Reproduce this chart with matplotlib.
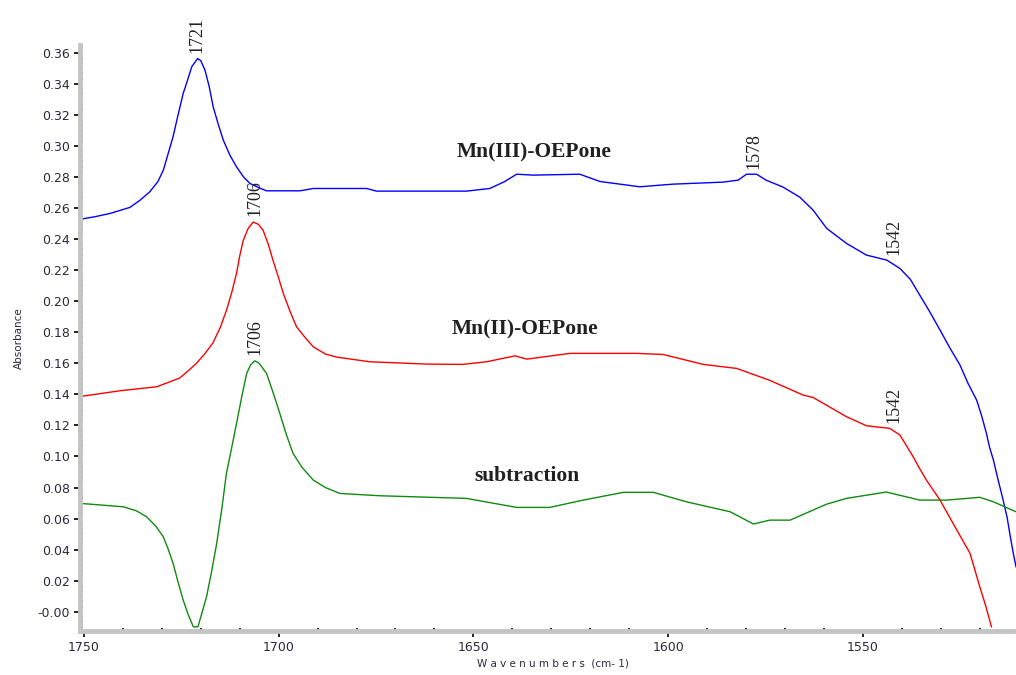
import matplotlib
matplotlib.use("Agg")
import matplotlib.pyplot as plt
from matplotlib.ticker import MultipleLocator, AutoMinorLocator, FixedLocator, FixedFormatter

# Mn(III)-OEPone spectrum
wn_mn3 = [1751.0, 1747.0, 1743.3, 1738.2, 1735.6, 1733.1, 1731.0, 1729.6, 1727.1, 1726.0,
          1724.5, 1723.3, 1722.3, 1720.8, 1720.0, 1718.9, 1717.8, 1716.8, 1715.5, 1714.2,
          1712.5, 1710.8, 1709.0, 1707.4, 1705.0, 1703.1, 1694.5, 1691.1, 1677.4, 1674.9,
          1651.8, 1645.8, 1642.0, 1638.9, 1634.6, 1622.7, 1617.5, 1607.3, 1598.7, 1585.9,
          1582.0, 1579.9, 1577.3, 1574.8, 1570.5, 1566.2, 1562.8, 1559.3, 1554.2, 1549.1,
          1543.9, 1540.5, 1537.8, 1535.4, 1532.8, 1530.2, 1527.7, 1525.1, 1523.0, 1520.8,
          1519.5, 1518.3, 1517.5, 1516.5, 1515.3, 1514.0, 1513.0, 1512.3, 1511.5, 1510.7]
abs_mn3 = [0.2527, 0.2545, 0.2565, 0.2604, 0.2650, 0.2704, 0.2770, 0.2844, 0.3059, 0.3180,
           0.3338, 0.3430, 0.3510, 0.3563, 0.3550, 0.3488, 0.3380, 0.3252, 0.3140, 0.3037,
           0.2940, 0.2865, 0.2800, 0.2759, 0.2730, 0.2711, 0.2711, 0.2726, 0.2726, 0.2709,
           0.2709, 0.2726, 0.2770, 0.2818, 0.2812, 0.2818, 0.2771, 0.2737, 0.2754, 0.2767,
           0.2780, 0.2818, 0.2818, 0.2779, 0.2735, 0.2670, 0.2587, 0.2469, 0.2372, 0.2297,
           0.2265, 0.2211, 0.2140, 0.2039, 0.1930, 0.1814, 0.1700, 0.1590, 0.1470, 0.1363,
           0.1260, 0.1149, 0.1060, 0.0977, 0.0850, 0.0719, 0.0610, 0.0505, 0.0390, 0.0290]

# Mn(II)-OEPone spectrum
wn_mn2 = [1751.0, 1740.8, 1731.3, 1725.4, 1723.5, 1721.1, 1719.0, 1716.9, 1715.0, 1713.4,
          1712.0, 1710.8, 1710.0, 1709.1, 1707.8, 1706.5, 1705.2, 1704.0, 1702.7, 1701.4,
          1700.0, 1698.8, 1697.0, 1695.4, 1693.0, 1691.1, 1688.0, 1685.1, 1676.6, 1662.0,
          1652.7, 1646.6, 1639.3, 1636.3, 1625.2, 1608.1, 1601.3, 1591.0, 1582.4, 1573.9,
          1565.3, 1562.8, 1554.2, 1549.1, 1543.1, 1540.5, 1537.1, 1535.4, 1533.7, 1530.2,
          1528.0, 1525.9, 1522.5, 1520.0, 1518.5, 1517.0]
abs_mn2 = [0.1386, 0.1423, 0.1449, 0.1505, 0.1545, 0.1600, 0.1660, 0.1730, 0.1830, 0.1940,
           0.2060, 0.2180, 0.2290, 0.2390, 0.2470, 0.2510, 0.2495, 0.2458, 0.2370, 0.2260,
           0.2150, 0.2050, 0.1930, 0.1835, 0.1760, 0.1706, 0.1660, 0.1640, 0.1610, 0.1595,
           0.1593, 0.1610, 0.1648, 0.1627, 0.1664, 0.1664, 0.1657, 0.1593, 0.1567, 0.1490,
           0.1395, 0.1380, 0.1256, 0.1198, 0.1181, 0.1138, 0.0998, 0.0920, 0.0848, 0.0719,
           0.0620, 0.0526, 0.0376, 0.0161, 0.0040, -0.0097]

# difference spectrum
wn_sub = [1751.0, 1739.9, 1736.5, 1733.9, 1731.5, 1729.6, 1728.3, 1727.1, 1725.8, 1724.5,
          1723.2, 1721.9, 1720.7, 1719.6, 1718.5, 1717.2, 1715.9, 1714.6, 1713.4, 1712.1,
          1710.8, 1709.5, 1708.2, 1707.2, 1706.1, 1705.0, 1703.1, 1701.4, 1699.7, 1698.0,
          1696.3, 1694.0, 1691.1, 1688.0, 1684.3, 1674.0, 1651.8, 1638.9, 1630.4, 1621.8,
          1611.5, 1603.8, 1595.3, 1584.1, 1578.1, 1573.9, 1568.7, 1559.3, 1554.2, 1544.0,
          1535.4, 1528.5, 1520.0, 1516.5, 1510.7]
abs_sub = [0.0698, 0.0676, 0.0650, 0.0612, 0.0550, 0.0483, 0.0400, 0.0312, 0.0190, 0.0075,
           -0.0020, -0.0097, -0.0097, 0.0000, 0.0097, 0.0260, 0.0440, 0.0660, 0.0891, 0.1050,
           0.1213, 0.1380, 0.1535, 0.1590, 0.1616, 0.1600, 0.1535, 0.1410, 0.1278, 0.1140,
           0.1020, 0.0930, 0.0848, 0.0800, 0.0762, 0.0747, 0.0730, 0.0672, 0.0672, 0.0719,
           0.0769, 0.0769, 0.0708, 0.0644, 0.0565, 0.0590, 0.0590, 0.0693, 0.0730, 0.0771,
           0.0719, 0.0719, 0.0737, 0.0708, 0.0644]

y_ticks = [0.00, 0.02, 0.04, 0.06, 0.08, 0.10, 0.12, 0.14, 0.16, 0.18,
           0.20, 0.22, 0.24, 0.26, 0.28, 0.30, 0.32, 0.34, 0.36]
y_tick_labels = ["-0.00"] + ["%.2f" % v for v in y_ticks[1:]]
x_ticks = [1750, 1700, 1650, 1600, 1550]

# peak labels: (wavenumber, absorbance at top of mark)
peaks = [(1721, 0.3563, "1721"), (1706, 0.2510, "1706"), (1706, 0.1616, "1706"),
         (1578, 0.2818, "1578"), (1542, 0.2265, "1542"), (1542, 0.1181, "1542")]

fig = plt.figure(figsize=(10.16, 6.75), dpi=100)
ax = fig.add_axes([0.0787, 0.0652, 0.9213, 0.8681])

ax.plot(wn_mn3, abs_mn3, color="#0000ff", lw=1.0)
ax.plot(wn_mn2, abs_mn2, color="#ff0000", lw=1.0)
ax.plot(wn_sub, abs_sub, color="#108a10", lw=1.0)

ax.set_xlim(1751.0, 1510.7)
ax.set_ylim(-0.0124, 0.365)

ax.xaxis.set_major_locator(FixedLocator(x_ticks))
ax.xaxis.set_minor_locator(MultipleLocator(10))
ax.yaxis.set_major_locator(FixedLocator(y_ticks))
ax.yaxis.set_major_formatter(FixedFormatter(y_tick_labels))
ax.yaxis.set_minor_locator(AutoMinorLocator(6))

for side in ("top", "right"):
    ax.spines[side].set_visible(False)
for side in ("left", "bottom"):
    ax.spines[side].set_color("#c4c4c4")
    ax.spines[side].set_linewidth(3.5)

ax.tick_params(which="major", direction="out", length=4, width=1.2, color="black",
               labelsize=9, labelcolor="#2a2a3a", pad=3)
ax.tick_params(which="minor", direction="in", length=2, width=1.2, color="black")

ax.set_xlabel("W a v e n u m b e r s  (cm- 1)", fontsize=7.5, color="#2a2a3a")
ax.xaxis.set_label_coords(0.505, -0.047)
ax.set_ylabel("Absorbance", fontsize=7.5, color="#2a2a3a")
ax.yaxis.set_label_coords(-0.060, 0.5)

serif = ["Liberation Serif", "DejaVu Serif"]
for wn, ab, txt in peaks:
    ax.annotate(txt, (wn, ab), xytext=(0, 4), textcoords="offset points",
                rotation=90, ha="center", va="bottom", fontsize=13,
                family=serif, color="#202020")

ax.text(1634.5, 0.296, "Mn(III)-OEPone", ha="center", va="center", fontsize=15.5,
        fontweight="bold", family=serif, color="#202020")
ax.text(1636.8, 0.1815, "Mn(II)-OEPone", ha="center", va="center", fontsize=15.5,
        fontweight="bold", family=serif, color="#202020")
ax.text(1636.3, 0.0874, "subtraction", ha="center", va="center", fontsize=15.5,
        fontweight="bold", family=serif, color="#202020")

fig.savefig("out.png", dpi=100)
